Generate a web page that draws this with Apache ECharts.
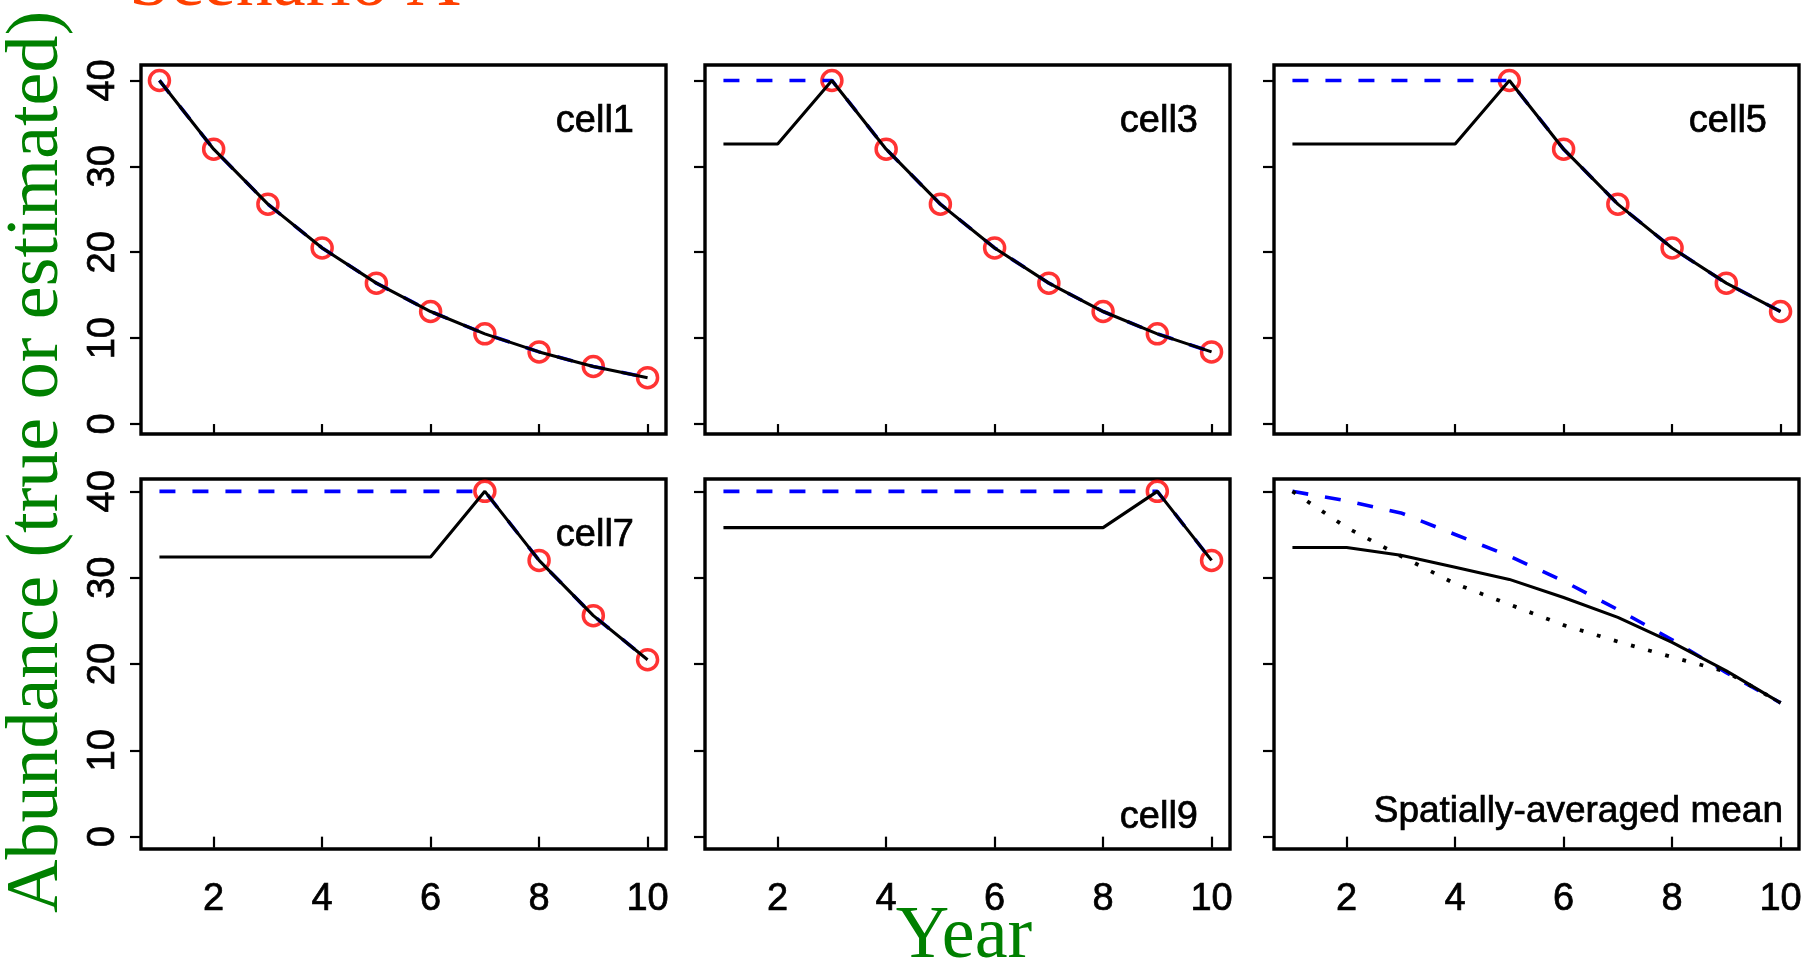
<!DOCTYPE html>
<html>
<head>
<meta charset="utf-8">
<title>Scenario A</title>
<script src="https://cdn.jsdelivr.net/npm/echarts@6/dist/echarts.min.js"></script>
<style>
  html, body { margin: 0; padding: 0; background: #ffffff; }
  #chart { width: 1816px; height: 968px; }
</style>
</head>
<body>
<div id="chart"></div>
<script>
// ---- data -------------------------------------------------------------
const years = [1, 2, 3, 4, 5, 6, 7, 8, 9, 10];
const xTicks = [2, 4, 6, 8, 10];
const yTicks = [0, 10, 20, 30, 40];
const panelNames = ['cell1', 'cell3', 'cell5', 'cell7', 'cell9', 'Spatially-averaged mean'];

// observed abundance (red circles); null = no observation that year
const obsCell1 = [40, 32, 25.6, 20.5, 16.4, 13.1, 10.5, 8.4, 6.7, 5.4];
const obsCell3 = [null, null, 40, 32, 25.6, 20.5, 16.4, 13.1, 10.5, 8.4];
const obsCell5 = [null, null, null, null, 40, 32, 25.6, 20.5, 16.4, 13.1];
const obsCell7 = [null, null, null, null, null, null, 40, 32, 25.6, 20.5];
const obsCell9 = [null, null, null, null, null, null, null, null, 40, 32];

// true abundance (blue dashed)
const trueCell1 = [40, 32, 25.6, 20.5, 16.4, 13.1, 10.5, 8.4, 6.7, 5.4];
const trueCell3 = [40, 40, 40, 32, 25.6, 20.5, 16.4, 13.1, 10.5, 8.4];
const trueCell5 = [40, 40, 40, 40, 40, 32, 25.6, 20.5, 16.4, 13.1];
const trueCell7 = [40, 40, 40, 40, 40, 40, 40, 32, 25.6, 20.5];
const trueCell9 = [40, 40, 40, 40, 40, 40, 40, 40, 40, 32];

// estimated abundance (black solid)
const estCell1 = [40, 32, 25.6, 20.5, 16.4, 13.1, 10.5, 8.4, 6.7, 5.4];
const estCell3 = [32.6, 32.6, 40, 32, 25.6, 20.5, 16.4, 13.1, 10.5, 8.4];
const estCell5 = [32.6, 32.6, 32.6, 32.6, 40, 32, 25.6, 20.5, 16.4, 13.1];
const estCell7 = [32.4, 32.4, 32.4, 32.4, 32.4, 32.4, 40, 32, 25.6, 20.5];
const estCell9 = [35.8, 35.8, 35.8, 35.8, 35.8, 35.8, 35.8, 35.8, 40, 32];

// spatially-averaged means
const meanTrue = [40, 38.9, 37.5, 35.0, 32.5, 29.6, 26.3, 22.8, 19.0, 15.5];
const meanAlt = [40, 35.8, 32.5, 29.3, 26.9, 24.5, 22.6, 20.8, 19.1, 15.5];
const meanEst = [33.5, 33.5, 32.6, 31.2, 29.8, 27.7, 25.4, 22.5, 19.2, 15.5];

const obsSets = [obsCell1, obsCell3, obsCell5, obsCell7, obsCell9];
const trueSets = [trueCell1, trueCell3, trueCell5, trueCell7, trueCell9];
const estSets = [estCell1, estCell3, estCell5, estCell7, estCell9];

// ---- layout -----------------------------------------------------------
const colLeft = [141, 705, 1274];
const panelWidth = 525;
const rows = [
  { top: 65, height: 369, min: -1.16, max: 41.8 },
  { top: 479, height: 370, min: -1.43, max: 41.43 }
];
const xMin = 0.66, xMax = 10.34;

const sansFont = 'Liberation Sans, Arial, sans-serif';
const serifFont = 'Liberation Serif, Times New Roman, serif';

function pairs(values) {
  const out = [];
  values.forEach((v, i) => { if (v !== null) out.push([years[i], v]); });
  return out;
}

const labelStyle = {
  fontSize: 38, fontFamily: sansFont, color: '#000',
  textBorderColor: '#000', textBorderWidth: 0.7
};

const grids = [], xAxes = [], yAxes = [], series = [];

for (let i = 0; i < 6; i++) {
  const r = Math.floor(i / 3), c = i % 3;
  const row = rows[r];
  grids.push({
    left: colLeft[c], top: row.top, width: panelWidth, height: row.height,
    show: true, borderColor: '#000', borderWidth: 3.4, backgroundColor: 'transparent'
  });
  xAxes.push({
    type: 'value', gridIndex: i, min: xMin, max: xMax,
    axisLine: { show: false },
    splitLine: { show: false },
    axisTick: { show: true, customValues: xTicks, length: 11, lineStyle: { color: '#000', width: 2.2 } },
    axisLabel: Object.assign({ show: r === 1, customValues: xTicks, margin: 32 }, labelStyle)
  });
  yAxes.push({
    type: 'value', gridIndex: i, min: row.min, max: row.max,
    axisLine: { show: false },
    splitLine: { show: false },
    axisTick: { show: true, customValues: yTicks, length: 11, lineStyle: { color: '#000', width: 2.2 } },
    axisLabel: Object.assign({ show: c === 0, customValues: yTicks, rotate: 90, margin: 18 }, labelStyle)
  });
}

// single-cell panels
for (let i = 0; i < 5; i++) {
  series.push({
    type: 'scatter', xAxisIndex: i, yAxisIndex: i, z: 2, clip: false,
    data: pairs(obsSets[i]), symbol: 'circle', symbolSize: 20,
    itemStyle: { color: 'transparent', borderColor: '#ff0000', borderWidth: 3.5 }
  });
  series.push({
    type: 'line', xAxisIndex: i, yAxisIndex: i, z: 3,
    data: pairs(trueSets[i]), symbol: 'none', smooth: false,
    lineStyle: { color: '#0000ff', width: 3.6, type: [16, 17] }
  });
  series.push({
    type: 'line', xAxisIndex: i, yAxisIndex: i, z: 4,
    data: pairs(estSets[i]), symbol: 'none', smooth: false,
    lineStyle: { color: '#000000', width: 3.1 }
  });
}

// spatially-averaged panel
series.push({
  type: 'line', xAxisIndex: 5, yAxisIndex: 5, z: 3,
  data: pairs(meanTrue), symbol: 'none',
  lineStyle: { color: '#0000ff', width: 3.6, type: [16, 17] }
});
series.push({
  type: 'line', xAxisIndex: 5, yAxisIndex: 5, z: 3,
  data: pairs(meanAlt), symbol: 'none',
  lineStyle: { color: '#000000', width: 3.8, type: [3.8, 14] }
});
series.push({
  type: 'line', xAxisIndex: 5, yAxisIndex: 5, z: 4,
  data: pairs(meanEst), symbol: 'none',
  lineStyle: { color: '#000000', width: 3.1 }
});

// panel captions
const captionPos = [
  [634, 122], [1198, 122], [1767, 122],
  [634, 536], [1198, 818], [1783, 812]
];
const graphics = panelNames.map((name, i) => ({
  type: 'text', x: captionPos[i][0], y: captionPos[i][1], z: 10,
  style: {
    text: name, fill: '#000', fontSize: i === 5 ? 37 : 38, fontFamily: sansFont,
    stroke: '#000', lineWidth: 0.7,
    align: 'right', verticalAlign: 'middle'
  }
}));

graphics.push({
  type: 'text', x: 129, y: -14, z: 10,
  style: { text: 'Scenario A', fill: '#ff4000', fontSize: 74, fontFamily: serifFont,
           align: 'left', verticalAlign: 'middle' }
});
graphics.push({
  type: 'text', x: 38, y: 913, rotation: Math.PI / 2, z: 10,
  style: { text: 'Abundance (true or estimated)', fill: '#008000', fontSize: 74,
           fontFamily: serifFont, align: 'left', verticalAlign: 'middle' }
});
graphics.push({
  type: 'text', x: 964, y: 938, z: 10,
  style: { text: 'Year', fill: '#008000', fontSize: 74, fontFamily: serifFont,
           align: 'center', verticalAlign: 'middle' }
});

const chart = echarts.init(document.getElementById('chart'), null, { renderer: 'canvas' });
chart.setOption({
  animation: false,
  backgroundColor: '#ffffff',
  grid: grids,
  xAxis: xAxes,
  yAxis: yAxes,
  series: series,
  graphic: graphics
});
</script>
</body>
</html>
